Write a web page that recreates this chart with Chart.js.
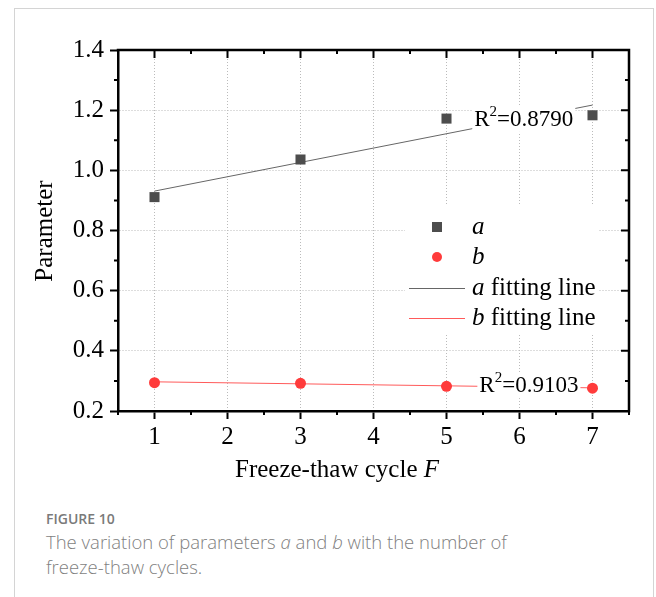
<!DOCTYPE html>
<html>
<head>
<meta charset="utf-8">
<script src="https://cdn.jsdelivr.net/npm/chart.js@4.4.1/dist/chart.umd.min.js"></script>
<style>
  body { margin: 0; background: #fff; width: 656px; height: 597px; overflow: hidden; position: relative; }
  #frame { position: absolute; left: 14px; top: 8px; width: 640px; height: 620px; border: 1.5px solid #d4d4d4; box-sizing: border-box; }
  #data-chart { position: absolute; left: 0; top: 0; }
  .caption { position: absolute; left: 46px; top: 508px; width: 500px; font-family: "Open Sans", sans-serif; color: #8a8a8a; }
  .caption .fig { font-size: 14px; font-weight: 600; color: #7a7a7a; line-height: 21px; }
  .caption .txt { font-size: 18.5px; line-height: 25px; font-weight: 300; color: #7f7f7f; }
</style>
</head>
<body>
<div id="frame"></div>
<canvas id="data-chart" width="656" height="500"></canvas>
<div class="caption">
  <div class="fig">FIGURE 10</div>
  <div class="txt">The variation of parameters <i>a</i> and <i>b</i> with the number of freeze-thaw cycles.</div>
</div>
<script>
const ctx = document.getElementById('data-chart');

// values
const cycles = [1, 3, 5, 7];
const paramA = [0.911, 1.036, 1.172, 1.183];
const paramB = [0.294, 0.292, 0.282, 0.276];
const fitX = [1, 7];
const fitA = [0.931, 1.217];
const fitB = [0.297, 0.277];
const xTicks = [1, 2, 3, 4, 5, 6, 7];
const xMinor = [0.5, 1.5, 2.5, 3.5, 4.5, 5.5, 6.5, 7.5];
const yTicks = [0.2, 0.4, 0.6, 0.8, 1.0, 1.2, 1.4];
const yMinor = [0.3, 0.5, 0.7, 0.9, 1.1, 1.3];

const serif = '"Liberation Serif", "Times New Roman", serif';
const grayA = '#4d4d4d';
const redB = '#ff3b3b';
const fs = 25;

function pts(xs, ys) {
  return xs.map((x, i) => ({x: x, y: ys[i]}));
}

// draws text with a superscript 2, e.g. R²=0.8790
function drawR2(c, x, yMid, value) {
  c.font = '23px ' + serif;
  const w1 = c.measureText('R').width;
  c.font = '15px ' + serif;
  const w2 = c.measureText('2').width;
  c.font = '23px ' + serif;
  const w3 = c.measureText('=' + value).width;
  c.fillStyle = '#fff';
  c.fillRect(x - 2, yMid - 13, w1 + w2 + w3 + 4, 26);
  c.fillStyle = '#000';
  c.textBaseline = 'middle';
  c.textAlign = 'left';
  c.fillText('R', x, yMid + 1);
  c.font = '15px ' + serif;
  c.fillText('2', x + w1, yMid - 7);
  c.font = '23px ' + serif;
  c.fillText('=' + value, x + w1 + w2, yMid + 1);
}

const extras = {
  id: 'extras',
  afterDatasetsDraw(chart) {
    const c = chart.ctx;
    const xs = chart.scales.x, ys = chart.scales.y;
    const area = chart.chartArea;
    c.save();

    // R² labels (white box hides the fitting line behind)
    drawR2(c, xs.getPixelForValue(5.38), ys.getPixelForValue(1.171), '0.8790');
    drawR2(c, xs.getPixelForValue(5.45), ys.getPixelForValue(0.286), '0.9103');

    // legend box inside plot
    c.fillStyle = '#fff';
    c.fillRect(405, 206, 193, 128);
    const sx = 437, tx = 472;
    c.fillStyle = grayA;
    c.fillRect(sx - 5, 222, 10, 10);
    c.fillStyle = redB;
    c.beginPath(); c.arc(sx, 257, 5, 0, Math.PI * 2); c.fill();
    c.lineWidth = 1;
    c.strokeStyle = '#666';
    c.beginPath(); c.moveTo(409, 288.5); c.lineTo(465, 288.5); c.stroke();
    c.strokeStyle = '#ff5a5a';
    c.beginPath(); c.moveTo(409, 318.5); c.lineTo(465, 318.5); c.stroke();
    c.fillStyle = '#000';
    c.textBaseline = 'middle';
    c.textAlign = 'left';
    const rows = [['a', '', 227], ['b', '', 257], ['a', ' fitting line', 288], ['b', ' fitting line', 318]];
    rows.forEach(r => {
      c.font = 'italic ' + fs + 'px ' + serif;
      c.fillText(r[0], tx, r[2]);
      const w = c.measureText(r[0]).width;
      c.font = fs + 'px ' + serif;
      c.fillText(r[1], tx + w, r[2]);
    });

    // frame top / right
    c.strokeStyle = '#000';
    c.lineWidth = 2.5;
    c.beginPath();
    c.moveTo(area.left - 1.25, area.top);
    c.lineTo(area.right, area.top);
    c.lineTo(area.right, area.bottom + 1.25);
    c.stroke();

    // ticks: top/right inward, minor ticks everywhere
    c.lineWidth = 2;
    c.beginPath();
    xTicks.forEach(v => {
      const p = xs.getPixelForValue(v);
      c.moveTo(p, area.top); c.lineTo(p, area.top + 8);
    });
    xMinor.forEach(v => {
      const p = xs.getPixelForValue(v);
      c.moveTo(p, area.top); c.lineTo(p, area.top + 4);
      c.moveTo(p, area.bottom); c.lineTo(p, area.bottom + 4);
    });
    yTicks.forEach(v => {
      const p = ys.getPixelForValue(v);
      c.moveTo(area.right, p); c.lineTo(area.right - 8, p);
    });
    yMinor.forEach(v => {
      const p = ys.getPixelForValue(v);
      c.moveTo(area.right, p); c.lineTo(area.right - 4, p);
      c.moveTo(area.left, p); c.lineTo(area.left - 4, p);
    });
    c.stroke();

    // axis titles
    c.fillStyle = '#000';
    c.textBaseline = 'middle';
    c.font = fs + 'px ' + serif;
    const t1 = 'Freeze-thaw cycle ';
    const w1 = c.measureText(t1).width;
    c.font = 'italic ' + fs + 'px ' + serif;
    const w2 = c.measureText('F').width;
    const x0 = 337 - (w1 + w2) / 2;
    c.textAlign = 'left';
    c.font = fs + 'px ' + serif;
    c.fillText(t1, x0, 470);
    c.font = 'italic ' + fs + 'px ' + serif;
    c.fillText('F', x0 + w1, 470);

    c.translate(45, 231);
    c.rotate(-Math.PI / 2);
    c.textAlign = 'center';
    c.font = fs + 'px ' + serif;
    c.fillText('Parameter', 0, 0);
    c.restore();
  }
};

const curChart = new Chart(ctx, {
  type: 'scatter',
  data: {
    datasets: [
      {
        label: 'a',
        data: pts(cycles, paramA),
        pointStyle: 'rect',
        pointRadius: 7.1,
        pointBackgroundColor: grayA,
        pointBorderWidth: 0,
        order: 1
      },
      {
        label: 'b',
        data: pts(cycles, paramB),
        pointStyle: 'circle',
        pointRadius: 5.5,
        pointBackgroundColor: redB,
        pointBorderWidth: 0,
        order: 2
      },
      {
        label: 'a fitting line',
        data: pts(fitX, fitA),
        showLine: true,
        borderColor: '#666',
        borderWidth: 1,
        pointRadius: 0,
        order: 3
      },
      {
        label: 'b fitting line',
        data: pts(fitX, fitB),
        showLine: true,
        borderColor: '#ff5a5a',
        borderWidth: 1,
        pointRadius: 0,
        order: 4
      }
    ]
  },
  options: {
    responsive: false,
    animation: false,
    devicePixelRatio: 1,
    layout: { padding: { top: 50, right: 27, left: 0, bottom: 0 } },
    plugins: { legend: { display: false }, tooltip: { enabled: false } },
    scales: {
      x: {
        type: 'linear',
        min: 0.5,
        max: 7.5,
        afterBuildTicks: s => { s.ticks = xTicks.map(v => ({value: v})); },
        afterFit: s => { s.height = 89; },
        ticks: { color: '#000', padding: 3, font: { family: serif, size: fs }, maxRotation: 0 },
        grid: { color: '#bbbbbb', lineWidth: 1, drawTicks: true, tickLength: 8, tickColor: '#000', tickWidth: 2 },
        border: { display: true, color: '#000', width: 2.5, dash: [1, 2] }
      },
      y: {
        type: 'linear',
        min: 0.2,
        max: 1.4,
        afterBuildTicks: s => { s.ticks = yTicks.map(v => ({value: v})); },
        afterFit: s => { s.width = 118; },
        ticks: { color: '#000', padding: 6, font: { family: serif, size: fs }, callback: v => v.toFixed(1) },
        grid: { color: '#bbbbbb', lineWidth: 1, drawTicks: true, tickLength: 8, tickColor: '#000', tickWidth: 2 },
        border: { display: true, color: '#000', width: 2.5, dash: [1, 2] }
      }
    }
  },
  plugins: [extras]
});
</script>
</body>
</html>
